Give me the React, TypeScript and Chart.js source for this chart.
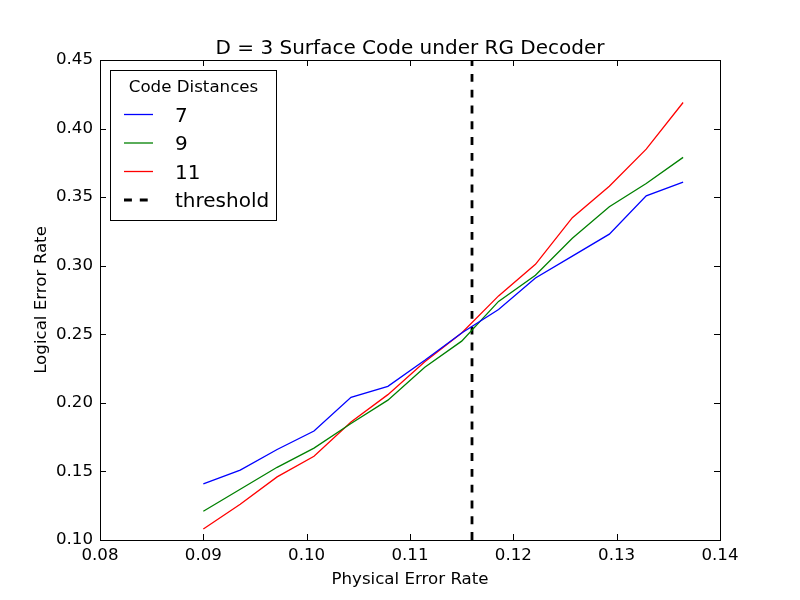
import { useEffect, useRef } from "react";
import { Chart, registerables } from "chart.js";

Chart.register(...registerables);

// Physical error rates swept for every code distance
const physicalErrorRates = [
  0.09, 0.09357, 0.09714, 0.10071, 0.10429, 0.10786, 0.11143, 0.115, 0.11857,
  0.12214, 0.12571, 0.12929, 0.13286, 0.13643,
];

// Logical error rates per code distance
const distance7 = [
  0.141, 0.151, 0.166, 0.1795, 0.204, 0.212, 0.231, 0.251, 0.268, 0.291,
  0.307, 0.323, 0.351, 0.361,
];
const distance9 = [
  0.121, 0.137, 0.153, 0.167, 0.185, 0.202, 0.226, 0.245, 0.274, 0.293, 0.32,
  0.343, 0.36, 0.379,
];
const distance11 = [
  0.108, 0.126, 0.146, 0.161, 0.186, 0.206, 0.23, 0.251, 0.278, 0.301, 0.335,
  0.358, 0.385, 0.419,
];

const seriesLabels = ["7", "9", "11"];
const seriesColors = ["#0000ff", "#008000", "#ff0000"];
const thresholdRate = 0.116;
const thresholdLabel = "threshold";

const xTicks = [0.08, 0.09, 0.1, 0.11, 0.12, 0.13, 0.14];
const yTicks = [0.1, 0.15, 0.2, 0.25, 0.3, 0.35, 0.4, 0.45];

const chartTitle = "D = 3 Surface Code under RG Decoder";
const xTitle = "Physical Error Rate";
const yTitle = "Logical Error Rate";
const legendTitle = "Code Distances";

const FONT = "'DejaVu Sans', sans-serif";

const decorations = {
  id: "decorations",
  afterDraw(chart: any) {
    const { ctx, chartArea, scales } = chart;
    const { left, right, top, bottom } = chartArea;
    const xs = scales.x;
    const ys = scales.y;
    ctx.save();

    // inward ticks on all four sides
    ctx.strokeStyle = "#000";
    ctx.lineWidth = 1;
    ctx.beginPath();
    const tickLen = 6;
    for (const t of xs.ticks) {
      const px = Math.round(xs.getPixelForValue(t.value)) + 0.5;
      ctx.moveTo(px, bottom);
      ctx.lineTo(px, bottom - tickLen);
      ctx.moveTo(px, top);
      ctx.lineTo(px, top + tickLen);
    }
    for (const t of ys.ticks) {
      const py = Math.round(ys.getPixelForValue(t.value)) + 0.5;
      ctx.moveTo(left, py);
      ctx.lineTo(left + tickLen, py);
      ctx.moveTo(right, py);
      ctx.lineTo(right - tickLen, py);
    }
    ctx.stroke();

    // axes frame
    ctx.strokeRect(Math.round(left) + 0.5, Math.round(top) + 0.5, Math.round(right - left), Math.round(bottom - top));

    // titles
    ctx.fillStyle = "#000";
    ctx.textAlign = "center";
    ctx.textBaseline = "alphabetic";
    ctx.font = `20px ${FONT}`;
    ctx.fillText(chartTitle, (left + right) / 2, 53.5);
    ctx.font = `16.67px ${FONT}`;
    ctx.fillText(xTitle, (left + right) / 2, 584);
    ctx.save();
    ctx.translate(45.5, (top + bottom) / 2);
    ctx.rotate(-Math.PI / 2);
    ctx.fillText(yTitle, 0, 0);
    ctx.restore();

    // legend
    const bx = 110.5;
    const by = 70.5;
    const bw = 166;
    const bh = 150;
    ctx.fillStyle = "#fff";
    ctx.fillRect(bx, by, bw, bh);
    ctx.strokeStyle = "#000";
    ctx.lineWidth = 1;
    ctx.strokeRect(bx, by, bw, bh);
    ctx.fillStyle = "#000";
    ctx.font = `16.67px ${FONT}`;
    ctx.textAlign = "center";
    ctx.fillText(legendTitle, bx + bw / 2, 91.7);

    ctx.textAlign = "left";
    ctx.font = `20px ${FONT}`;
    const datasets = chart.data.datasets;
    datasets.forEach((ds: any, i: number) => {
      const ly = 114.5 + i * 28.5;
      ctx.save();
      ctx.strokeStyle = ds.borderColor;
      ctx.lineWidth = ds.borderWidth;
      ctx.setLineDash(ds.borderDash || []);
      ctx.beginPath();
      ctx.moveTo(124, ly);
      ctx.lineTo(153, ly);
      ctx.stroke();
      ctx.restore();
      ctx.fillText(ds.label, 175, ly + 7.3);
    });

    ctx.restore();
  },
};

export default function App() {
  const canvasRef = useRef<HTMLCanvasElement | null>(null);

  useEffect(() => {
    const canvas = canvasRef.current;
    if (!canvas) return;
    Chart.defaults.font.family = FONT;
    Chart.defaults.color = "#000";

    const series = [distance7, distance9, distance11];
    const datasets: any[] = series.map((vals, i) => ({
      label: seriesLabels[i],
      data: physicalErrorRates.map((x, j) => ({ x, y: vals[j] })),
      borderColor: seriesColors[i],
      backgroundColor: seriesColors[i],
      borderWidth: 1.3,
      pointRadius: 0,
      tension: 0,
      fill: false,
    }));
    datasets.push({
      label: thresholdLabel,
      data: [
        { x: thresholdRate, y: yTicks[0] },
        { x: thresholdRate, y: yTicks[yTicks.length - 1] },
      ],
      borderColor: "#000",
      backgroundColor: "#000",
      borderWidth: 2.8,
      borderDash: [7.9, 7.9],
      borderDashOffset: 0,
      pointRadius: 0,
      fill: false,
    });

    const chart = new Chart(canvas, {
      type: "line",
      data: { datasets },
      options: {
        animation: false,
        responsive: false,
        events: [],
        layout: { padding: { top: 60, right: 80, left: 0, bottom: 0 } },
        plugins: {
          legend: { display: false },
          title: { display: false },
          tooltip: { enabled: false },
        },
        scales: {
          x: {
            type: "linear",
            min: xTicks[0],
            max: xTicks[xTicks.length - 1],
            afterBuildTicks: (scale: any) => {
              scale.ticks = xTicks.map((v) => ({ value: v }));
            },
            afterFit: (scale: any) => {
              scale.height = 60;
            },
            grid: { display: false, drawTicks: false },
            border: { display: false },
            ticks: {
              autoSkip: false,
              maxRotation: 0,
              padding: 6,
              font: { size: 16.67, family: FONT },
              color: "#000",
              callback: (v: any) => Number(v).toFixed(2),
            },
          },
          y: {
            type: "linear",
            min: yTicks[0],
            max: yTicks[yTicks.length - 1],
            afterBuildTicks: (scale: any) => {
              scale.ticks = yTicks.map((v) => ({ value: v }));
            },
            afterFit: (scale: any) => {
              scale.width = 100;
            },
            grid: { display: false, drawTicks: false },
            border: { display: false },
            ticks: {
              autoSkip: false,
              padding: 7,
              font: { size: 16.67, family: FONT },
              color: "#000",
              callback: (v: any) => Number(v).toFixed(2),
            },
          },
        },
      },
      plugins: [decorations],
    });

    return () => chart.destroy();
  }, []);

  return (
    <div style={{ position: "fixed", left: 0, top: 0, width: 800, height: 600, background: "#fff" }}>
      <canvas ref={canvasRef} width={800} height={600} style={{ display: "block" }} />
    </div>
  );
}
